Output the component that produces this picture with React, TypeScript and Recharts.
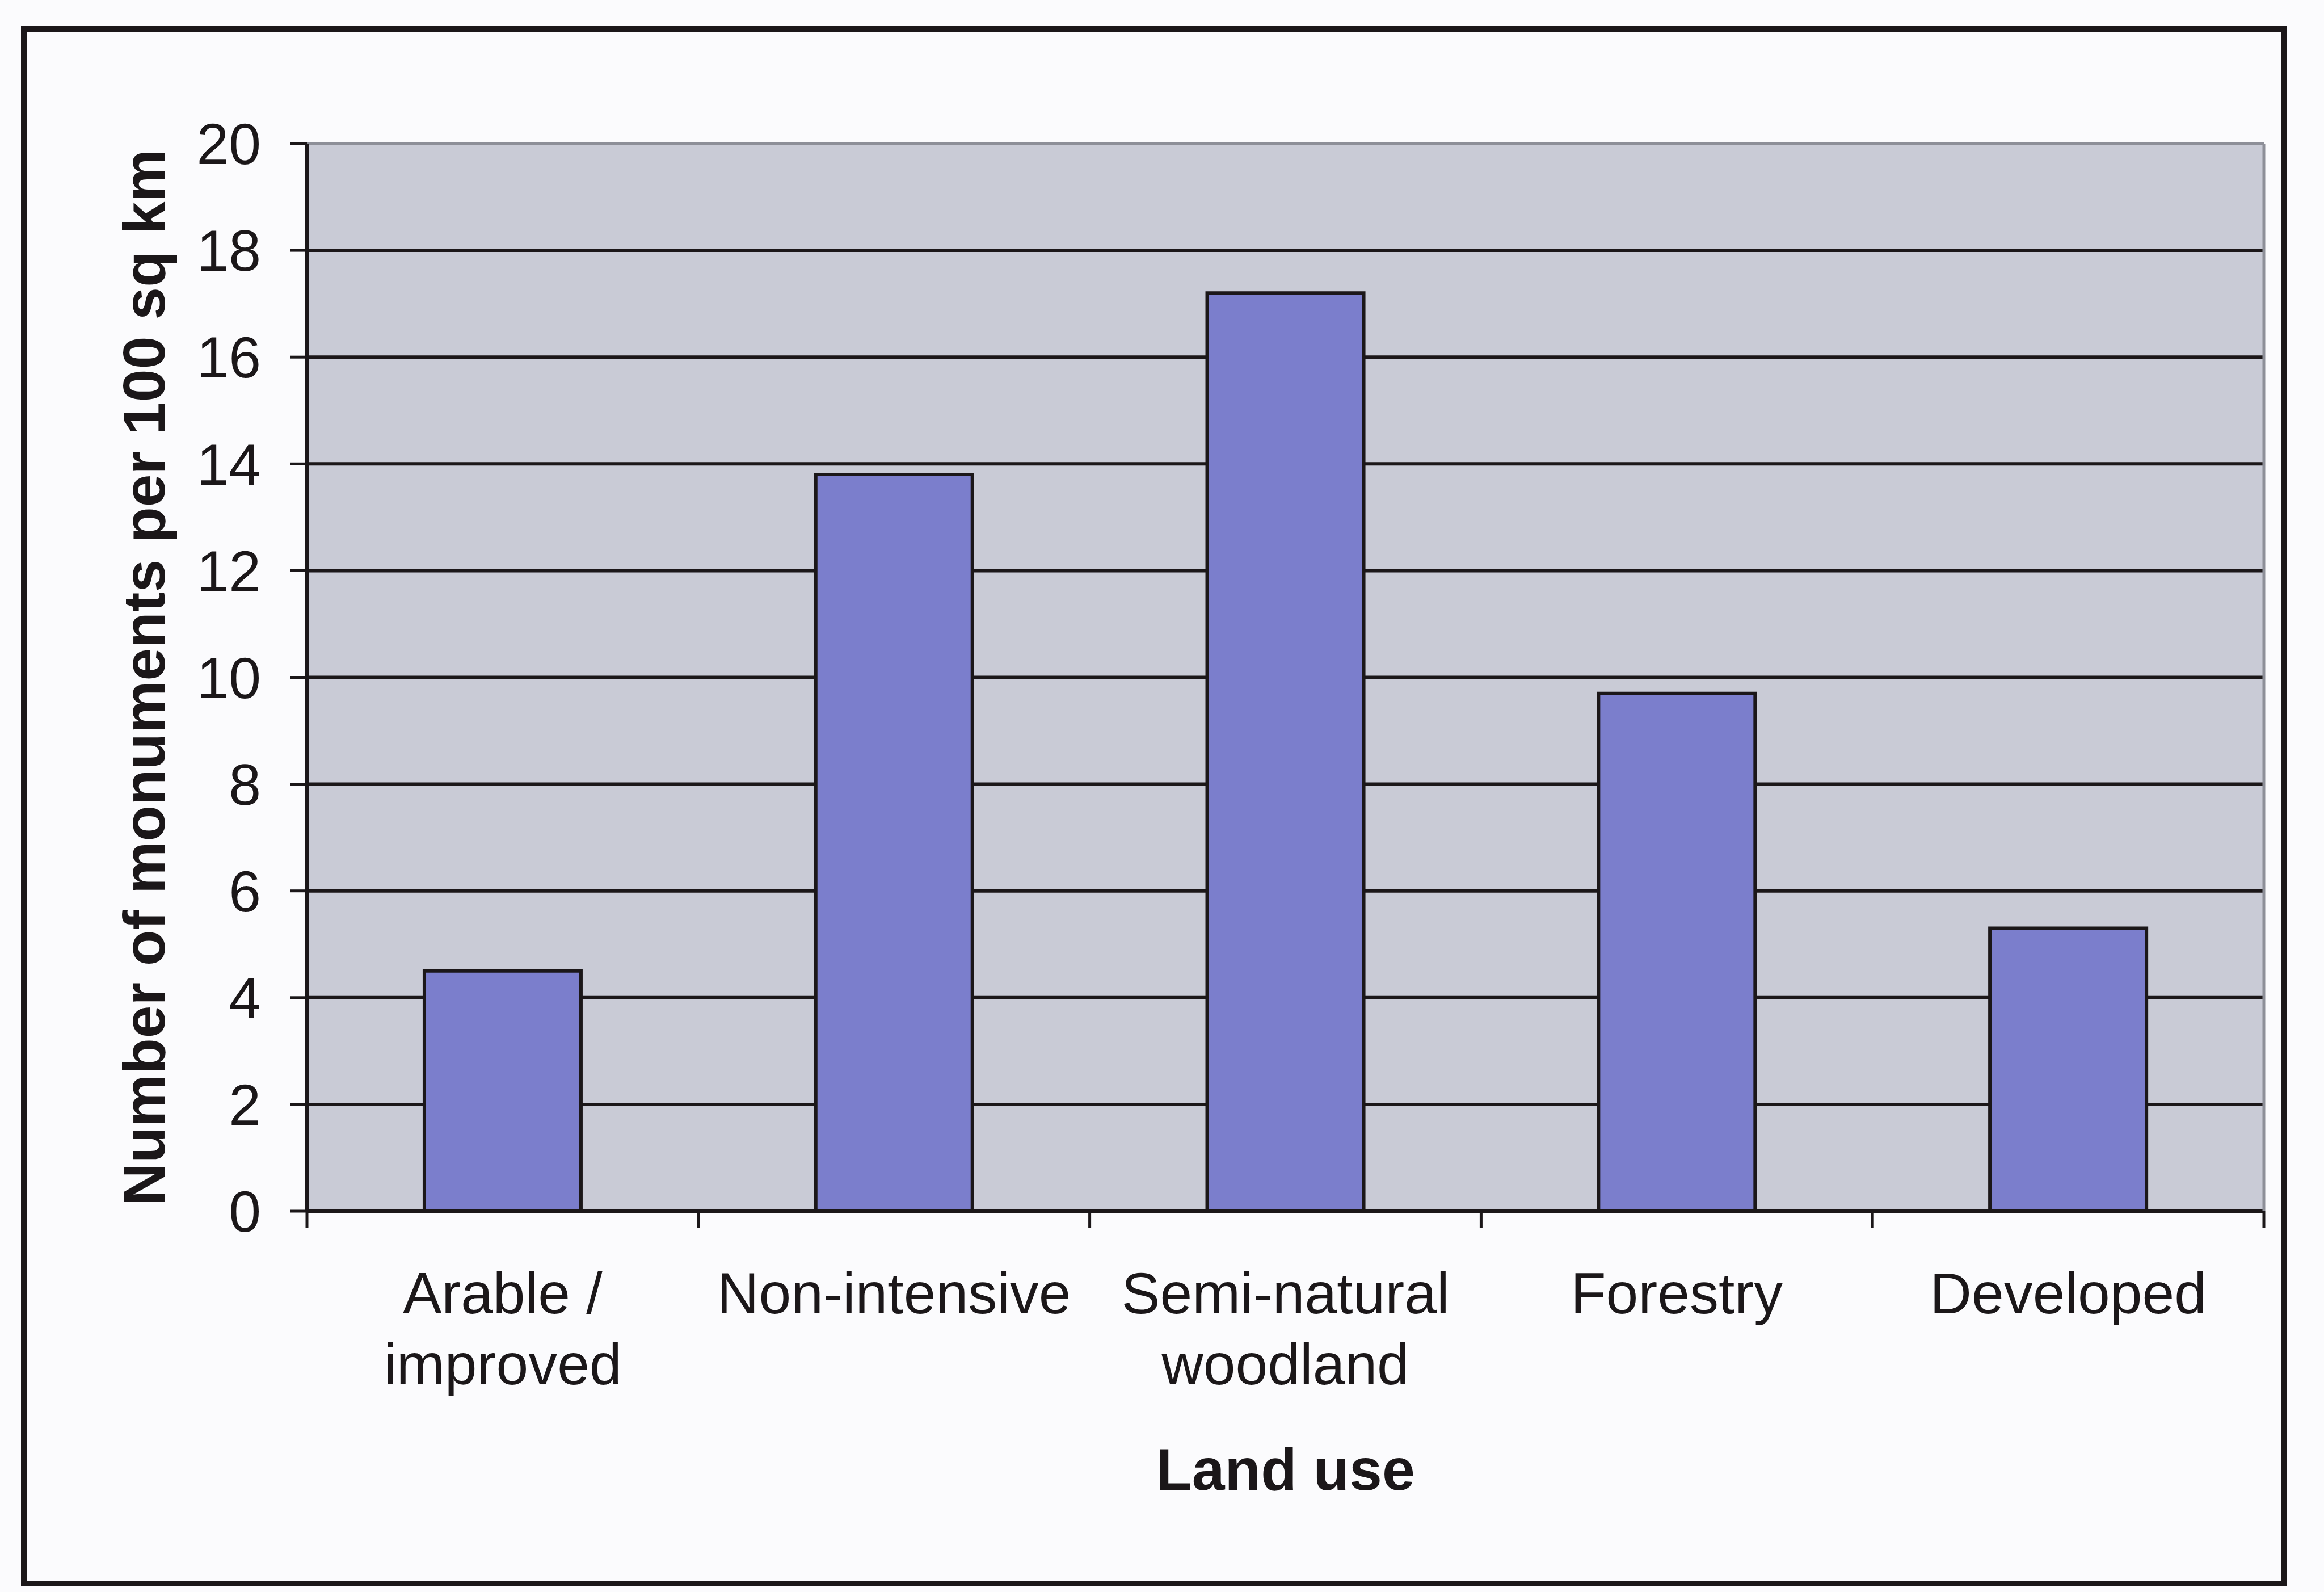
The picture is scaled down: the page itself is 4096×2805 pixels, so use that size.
import { BarChart, Bar, XAxis, YAxis, CartesianGrid, ReferenceLine, Label } from 'recharts';

// Monument density by land-use class
const CATEGORIES = ['Arable /\nimproved', 'Non-intensive', 'Semi-natural\nwoodland', 'Forestry', 'Developed'];
const DENSITY = [4.5, 13.8, 17.2, 9.7, 5.3];
const Y_TICKS = [0, 2, 4, 6, 8, 10, 12, 14, 16, 18, 20];
const GRID_VALUES = [2, 4, 6, 8, 10, 12, 14, 16, 18];

const Y_TITLE = 'Number of monuments per 100 sq km';
const X_TITLE = 'Land use';

const FONT = '"Liberation Sans", Arial, sans-serif';
const INK = '#1b1719';
const BAR_FILL = '#7b7ecc';
const PLOT_FILL = '#c9cbd6';
const PLOT_EDGE = '#8d8f98';
const TICK_LEN = 30;

const W = 4096;
const H = 2805;

const data = CATEGORIES.map((name, i) => ({ name, value: DENSITY[i] }));

// Category label, plus the tick marks that sit on the category boundaries
// eslint-disable-next-line @typescript-eslint/no-explicit-any
function CategoryTick({ x, y, payload, index }: any) {
  const lines = String(payload.value).split('\n');
  const half = payload.offset ?? 0;
  const i = index ?? payload.index ?? 0;
  const edges = i === CATEGORIES.length - 1 ? [x - half, x + half] : [x - half];
  return (
    <g>
      {edges.map((ex) => (
        <line key={ex} x1={ex} x2={ex} y1={y} y2={y + TICK_LEN} stroke={INK} strokeWidth={5} />
      ))}
      <text x={x} y={y + 180} textAnchor="middle" fill={INK} fontFamily={FONT} fontSize={102}>
        {lines.map((line, k) => (
          <tspan key={line} x={x} dy={k === 0 ? 0 : 125}>
            {line}
          </tspan>
        ))}
      </text>
    </g>
  );
}

// eslint-disable-next-line @typescript-eslint/no-explicit-any
function YTitle({ viewBox }: any) {
  const { x = 0, y = 0, height = 0 } = viewBox ?? {};
  const cx = x + 290;
  const cy = y + height / 2;
  return (
    <text
      x={cx}
      y={cy}
      transform={`rotate(-90, ${cx}, ${cy})`}
      textAnchor="middle"
      fill={INK}
      fontFamily={FONT}
      fontWeight="bold"
      fontSize={104}
    >
      {Y_TITLE}
    </text>
  );
}

// eslint-disable-next-line @typescript-eslint/no-explicit-any
function XTitle({ viewBox }: any) {
  const { x = 0, y = 0, width = 0 } = viewBox ?? {};
  return (
    <text
      x={x + width / 2}
      y={y + 491}
      textAnchor="middle"
      fill={INK}
      fontFamily={FONT}
      fontWeight="bold"
      fontSize={104}
    >
      {X_TITLE}
    </text>
  );
}

export default function App() {
  return (
    <div style={{ position: 'absolute', left: 0, top: 0, width: W, height: H, background: '#fbfbfd' }}>
      <div
        style={{
          position: 'absolute',
          left: 37,
          top: 46,
          width: 3993,
          height: 2749,
          border: `10px solid ${INK}`,
          boxSizing: 'border-box',
        }}
      />
      <div style={{ position: 'absolute', left: 0, top: 0 }}>
        <BarChart
          width={W}
          height={H}
          data={data}
          margin={{ top: 253, right: 105, left: 0, bottom: 670 }}
          barCategoryGap="30%"
        >
          <CartesianGrid
            fill={PLOT_FILL}
            fillOpacity={1}
            vertical={false}
            horizontalValues={GRID_VALUES}
            stroke={INK}
            strokeWidth={6}
          />
          <XAxis
            dataKey="name"
            height={1}
            axisLine={{ stroke: INK, strokeWidth: 6 }}
            tickLine={false}
            tickSize={0}
            tickMargin={0}
            interval={0}
            tick={<CategoryTick />}
          >
            <Label content={<XTitle />} />
          </XAxis>
          <YAxis
            domain={[0, 20]}
            ticks={Y_TICKS}
            interval={0}
            width={541}
            tickSize={TICK_LEN}
            tickMargin={51}
            axisLine={{ stroke: INK, strokeWidth: 6 }}
            tickLine={{ stroke: INK, strokeWidth: 5 }}
            tick={{ fill: INK, fontSize: 102, fontFamily: FONT }}
          >
            <Label content={<YTitle />} />
          </YAxis>
          <YAxis
            yAxisId="frame"
            orientation="right"
            domain={[0, 20]}
            allowDataOverflow
            width={1}
            tick={false}
            tickLine={false}
            axisLine={{ stroke: PLOT_EDGE, strokeWidth: 5 }}
          />
          <ReferenceLine y={20} stroke={PLOT_EDGE} strokeWidth={5} />
          <Bar
            dataKey="value"
            fill={BAR_FILL}
            stroke={INK}
            strokeWidth={6}
            isAnimationActive={false}
          />
        </BarChart>
      </div>
    </div>
  );
}
